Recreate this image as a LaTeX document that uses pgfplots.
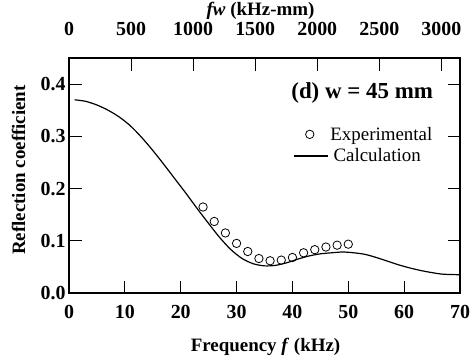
\documentclass[border=0pt]{standalone}
\usepackage{pgfplots}
\pgfplotsset{compat=1.18}
\usepackage{fontspec}
\setmainfont{Liberation Serif}
\pgfplotsset{
 legmark/.style={legend image code/.code={\draw[mark repeat=2,mark phase=2,##1] plot coordinates {(0bp,0bp) (16bp,0bp) (32bp,0bp)};}},
 legline/.style={legend image code/.code={\draw[##1] (0bp,0bp) -- (34bp,0bp);}},
}
\begin{document}
\begin{tikzpicture}
\begin{axis}[name=main, scale only axis, width=391bp, height=235bp,
 xmin=0, xmax=70, ymin=0, ymax=0.45,
 xtick={0,10,20,30,40,50,60,70}, ytick={0,0.1,0.2,0.3,0.4},
 xtick pos=bottom, ytick pos=both, tick align=inside,
 major tick length=12.5bp,
 axis line style={line width=1.2bp},
 every tick/.style={line width=1bp, black},
 /pgf/number format/assume math mode=true,
 ticklabel style={font=\fontsize{20}{20}\selectfont\bfseries},
 xticklabel style={yshift=-9bp},
 yticklabel style={/pgf/number format/fixed, /pgf/number format/fixed zerofill, /pgf/number format/precision=1},
 xlabel={Frequency \textit{f} (kHz)},
 ylabel={Reflection coefficient},
 xlabel style={at={(axis description cs:0.5026,0)}, anchor=center, yshift=-54bp, font=\fontsize{19}{19}\selectfont\bfseries},
 ylabel style={at={(axis description cs:-0.129,0.523)}, anchor=center, font=\fontsize{19}{19}\selectfont\bfseries},
 legend style={draw=none, fill=none, inner sep=0pt, at={(axis cs:40.1,0.322)}, anchor=north west,
   font=\fontsize{19}{19}\selectfont, row sep=3bp},
 legend cell align=left,
]
\addplot[only marks, mark=o, mark size=4.2bp, mark options={line width=0.8bp}, black, legmark]
 coordinates {
 (24,0.1647) (26,0.137) (28,0.115) (30,0.095) (32,0.0795) (34,0.066) (36,0.0617)
 (38,0.063) (40,0.068) (42,0.077) (44,0.083) (46,0.088) (48,0.0916) (50,0.0935)
 };
\addlegendentry{Experimental}
\addplot[black, line width=1.2bp, smooth, legline]
 coordinates {
 (1,0.370) (3,0.367) (5,0.360) (7,0.350) (9,0.337) (11,0.320) (13,0.298) (15,0.273)
 (17,0.246) (19,0.218) (21,0.190) (23,0.161) (25,0.133) (27,0.106) (29,0.083) (31,0.066)
 (33,0.056) (35,0.052) (37,0.053) (39,0.058) (41,0.065) (43,0.071) (45,0.075) (47,0.077)
 (49,0.0785) (51,0.077) (53,0.074) (55,0.068) (57,0.061) (59,0.054) (61,0.048) (63,0.043)
 (65,0.039) (67,0.036) (70,0.035)
 };
\addlegendentry{\,Calculation}
\node[anchor=east, font=\fontsize{23}{23}\selectfont\bfseries, inner sep=0pt] at (axis cs:65.2,0.3836) {(d) w = 45 mm};
\end{axis}
\begin{axis}[scale only axis, width=391bp, height=235bp,
 xmin=0, xmax=3150, ymin=0, ymax=0.45,
 axis x line*=top, axis y line=none,
 xtick={0,500,1000,1500,2000,2500,3000}, tick align=inside,
 major tick length=12.5bp,
 axis line style={line width=1.2bp},
 every tick/.style={line width=1bp, black},
 /pgf/number format/assume math mode=true,
 /pgf/number format/1000 sep={},
 ticklabel style={font=\fontsize{20}{20}\selectfont\bfseries},
 xticklabel style={yshift=19bp},
 xlabel={\textit{fw} (kHz-mm)},
 xlabel style={at={(axis description cs:0.49,1)}, anchor=center, yshift=47bp, font=\fontsize{19}{19}\selectfont\bfseries},
]
\addplot[draw=none] coordinates {(0,0)};
\end{axis}
\pgfresetboundingbox
\path ([xshift=-69bp,yshift=-63bp]main.south west) rectangle ([xshift=12bp,yshift=58bp]main.north east);
\end{tikzpicture}
\end{document}
